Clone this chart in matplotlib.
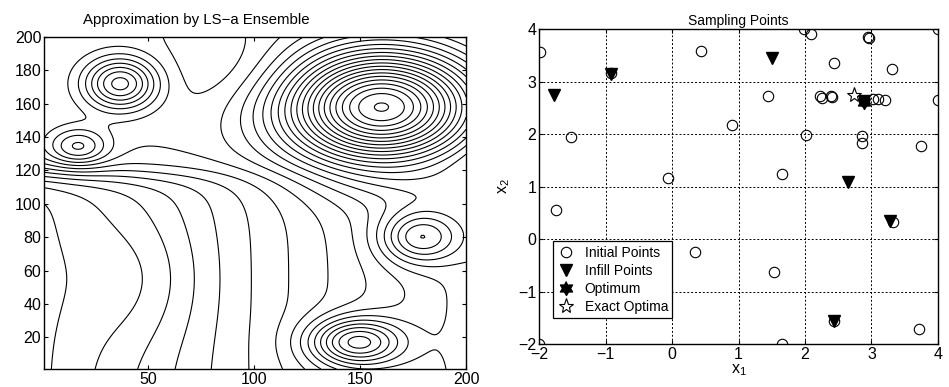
"""Contour of the LS-a ensemble surrogate and the sampling points (two panels)."""
import numpy as np
import matplotlib
matplotlib.use("Agg")
import matplotlib.pyplot as plt

plt.rcParams["font.family"] = ["Liberation Sans", "DejaVu Sans"]
plt.rcParams["mathtext.fontset"] = "custom"
plt.rcParams["mathtext.rm"] = "Liberation Sans"
plt.rcParams["mathtext.it"] = "Liberation Sans"

# --- left panel: surface features (grid index units)
peak_x = [160, 37, 17, 178, 148, 95, 45]
peak_y = [158, 172, 134, 80, 17, 180, 55]
peak_h = [15.0, 5.5, 3.2, 4.2, 5.8, -1.0, -1.0]
peak_sx = [32, 12, 10, 13, 15, 25, 22]
peak_sy = [24, 11, 8, 11, 10, 18, 28]
band_y = 118          # steep ridge running across the map
band_h = 5.5
band_w = 5.0
slope_x = 0.04        # rise from left to right in the lower half
grid_n = 200

# --- right panel: sampling points
init_x1 = [-1.98, -1.52, -1.74, -2.0, 0.44, -0.06, 0.90, 0.35, 1.45, 1.65,
           1.54, 1.66, 1.99, 2.09, 2.44, 2.02, 2.23, 2.26, 2.39, 2.40,
           2.95, 2.96, 3.31, 3.03, 3.10, 3.20, 2.86, 2.86, 3.74, 4.0,
           4.0, 3.71, 3.33, 2.43, -0.92, 2.88]
init_x2 = [3.57, 1.94, 0.55, -2.0, 3.59, 1.17, 2.18, -0.24, 2.73, 1.23,
           -0.63, -2.0, 4.0, 3.90, 3.36, 1.98, 2.72, 2.69, 2.72, 2.70,
           3.84, 3.82, 3.24, 2.67, 2.67, 2.64, 1.97, 1.83, 1.78, 4.0,
           2.64, -1.72, 0.33, -1.56, 3.16, 2.62]
infill_x1 = [-1.78, -0.92, 1.50, 2.65, 3.28, 2.43, 2.88]
infill_x2 = [2.75, 3.15, 3.45, 1.08, 0.35, -1.56, 2.62]
opt_x1 = [2.88]
opt_x2 = [2.61]
exact_x1 = [2.74]
exact_x2 = [2.75]

# build the surrogate surface from the features above
gx, gy = np.meshgrid(np.arange(1, grid_n + 1), np.arange(1, grid_n + 1))
band = band_h / (1 + np.exp(-(gy - band_y) / band_w))
Z = band + slope_x * gx * (1 - band / band_h)
for px, py, ph, sx, sy in zip(peak_x, peak_y, peak_h, peak_sx, peak_sy):
    Z = Z + ph * np.exp(-((gx - px) ** 2 / (2 * sx ** 2) + (gy - py) ** 2 / (2 * sy ** 2)))

# six-pointed star marker (MATLAB "hexagram")
ang = np.pi / 2 + np.arange(12) * np.pi / 6
rad = np.where(np.arange(12) % 2 == 0, 1.0, 1 / np.sqrt(3))
hexagram = list(zip(rad * np.cos(ang), rad * np.sin(ang)))

fig = plt.figure(figsize=(9.49, 3.87), dpi=100)

ax1 = fig.add_axes([0.0464, 0.0465, 0.4447, 0.858])
levels = np.arange(np.floor(Z.min()) + 0.4, Z.max(), 0.75)
ax1.contour(gx, gy, Z, levels=levels, colors="black", linewidths=0.8)
ax1.set_xlim(1, 200)
ax1.set_ylim(1, 200)
ax1.set_xticks([50, 100, 150, 200])
ax1.set_yticks([20, 40, 60, 80, 100, 120, 140, 160, 180, 200])
ax1.tick_params(direction="in", top=True, right=True, labelsize=11.5, length=3, pad=2)
fig.text(0.207, 0.948, "Approximation by LS\u2212a Ensemble", ha="center", va="center", fontsize=10.8)

ax2 = fig.add_axes([0.568, 0.111, 0.4204, 0.814])
ax2.plot(init_x1, init_x2, "o", mfc="none", mec="black", ms=7.5, mew=0.8, label="Initial Points")
ax2.plot(infill_x1, infill_x2, "v", color="black", ms=9, label="Infill Points")
ax2.plot(opt_x1, opt_x2, marker=hexagram, ls="none", color="black", ms=10, label="Optimum")
ax2.plot(exact_x1, exact_x2, "*", mfc="white", mec="black", ms=11, mew=0.8, label="Exact Optima")
ax2.set_xlim(-2, 4)
ax2.set_ylim(-2, 4)
ax2.set_xticks(range(-2, 5))
ax2.set_yticks(range(-2, 5))
ax2.grid(True, color="black", linestyle=(0, (2, 2)), linewidth=0.7)
ax2.tick_params(direction="in", top=True, right=True, labelsize=11.5, length=3, pad=2)
ax2.set_title("Sampling Points", fontsize=10, pad=3)
ax2.set_xlabel("x$_1$", fontsize=11.5, labelpad=0.5)
ax2.set_ylabel("x$_2$", fontsize=11.5, labelpad=4)
leg = ax2.legend(loc="upper left", bbox_to_anchor=(0.034, 0.326), fontsize=10, fancybox=False,
                 framealpha=1, edgecolor="black", borderpad=0.3, handletextpad=0.6,
                 labelspacing=0.3, handlelength=1.4, borderaxespad=0)
leg.get_frame().set_linewidth(0.9)

for ax in (ax1, ax2):
    for s in ax.spines.values():
        s.set_linewidth(1.0)

fig.savefig("out.png", dpi=100)
